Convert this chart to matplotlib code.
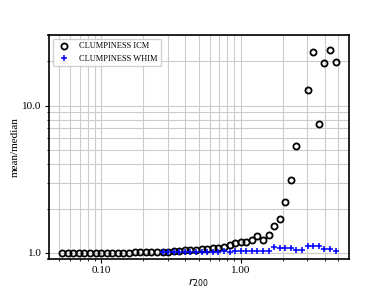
import numpy as np
import matplotlib
matplotlib.use("Agg")
import matplotlib.pyplot as plt
from matplotlib.ticker import FormatStrFormatter, NullFormatter

# radial bin centres (r / r200)
r_bins = [0.0524, 0.0574, 0.0630, 0.0690, 0.0757, 0.0830, 0.0910, 0.0998,
          0.1094, 0.1199, 0.1315, 0.1442, 0.1581, 0.1734, 0.1901, 0.2084,
          0.2286, 0.2506, 0.2748, 0.3013, 0.3304, 0.3622, 0.3972, 0.4355,
          0.4775, 0.5236, 0.5741, 0.6295, 0.6902, 0.7568, 0.8298, 0.9099,
          0.9977, 1.094, 1.199, 1.315, 1.442, 1.581, 1.734, 1.901,
          2.084, 2.286, 2.506, 2.748, 3.013, 3.304, 3.622, 3.972,
          4.355, 4.775]

clump_icm = [1.00, 1.00, 1.00, 1.00, 1.00, 1.00, 1.00, 1.00,
             1.00, 1.00, 1.00, 1.00, 1.00, 1.01, 1.01, 1.01,
             1.01, 1.01, 1.02, 1.02, 1.03, 1.03, 1.04, 1.04,
             1.05, 1.06, 1.065, 1.075, 1.08, 1.10, 1.13, 1.16,
             1.18, 1.19, 1.23, 1.30, 1.23, 1.32, 1.53, 1.71,
             2.22, 3.13, 5.28, np.nan, 12.7, 23.0, 7.5, 19.6,
             23.7, 19.8]

r_whim = r_bins[18:]
clump_whim = [1.01, 1.01, 1.01, 1.01, 1.015, 1.015, 1.015, 1.02,
              1.02, 1.02, 1.02, 1.03, 1.02, 1.03, 1.03, 1.03,
              1.03, 1.03, 1.03, 1.03, 1.10, 1.08, 1.08, 1.08,
              1.04, 1.05, 1.11, 1.11, 1.11, 1.06, 1.06, 1.03]

plt.rcParams['font.family'] = ['Liberation Serif', 'DejaVu Serif']

fig, ax = plt.subplots(figsize=(3.88, 2.91), dpi=100)

ax.plot(r_bins, clump_icm, 'o', mfc='none', mec='black', mew=1.3, ms=4.4,
        label='CLUMPINESS ICM')
ax.plot(r_whim, clump_whim, '+', color='blue', mew=1.1, ms=5,
        label='CLUMPINESS WHIM')

ax.set_xscale('log')
ax.set_yscale('log')
ax.set_ylim(0.91, 30.2)

ax.grid(True, which='both', color='#cccccc', linewidth=0.8)
ax.set_axisbelow(True)

ax.xaxis.set_major_formatter(FormatStrFormatter('%.2f'))
ax.yaxis.set_major_formatter(FormatStrFormatter('%.1f'))
ax.xaxis.set_minor_formatter(NullFormatter())
ax.yaxis.set_minor_formatter(NullFormatter())
ax.tick_params(labelsize=8, pad=2, length=3)
ax.tick_params(which='minor', length=1.5)

for sp in ax.spines.values():
    sp.set_linewidth(1.2)

ax.set_xlabel('$r_{200}$', fontsize=8, labelpad=1)
ax.set_ylabel('mean/median', fontsize=8, labelpad=2)

ax.legend(loc='upper left', fontsize=6, framealpha=0.9)

plt.savefig('out.png')
